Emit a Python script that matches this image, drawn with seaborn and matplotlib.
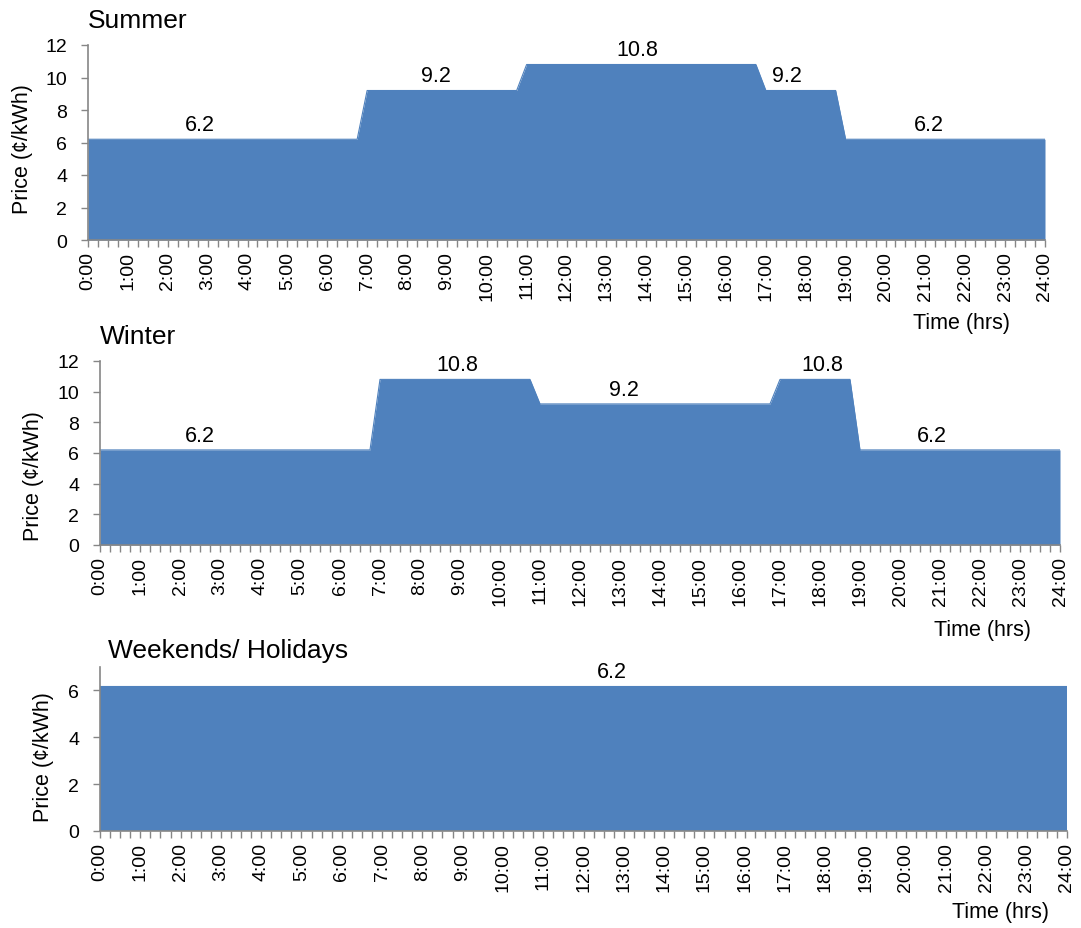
import numpy as np
import pandas as pd
import matplotlib
matplotlib.use("Agg")
import matplotlib.pyplot as plt
from matplotlib.ticker import MultipleLocator, FixedLocator
import seaborn as sns

# ---- tariff data (time of day -> price in cents/kWh) ----
summer_times = ["0:00", "6:45", "7:00", "10:45", "11:00", "16:45", "17:00", "18:45", "19:00", "24:00"]
summer_price = [6.2, 6.2, 9.2, 9.2, 10.8, 10.8, 9.2, 9.2, 6.2, 6.2]

winter_times = ["0:00", "6:45", "7:00", "10:45", "11:00", "16:45", "17:00", "18:45", "19:00", "24:00"]
winter_price = [6.2, 6.2, 10.8, 10.8, 9.2, 9.2, 10.8, 10.8, 6.2, 6.2]

weekend_times = ["0:00", "24:00"]
weekend_price = [6.2, 6.2]

hour_labels = [f"{h}:00" for h in range(25)]

# where the value labels sit along the day (hours)
summer_label_at = [2.81, 8.72, 13.77, 17.53, 21.09]
winter_label_at = [2.5, 8.93, 13.1, 18.05, 20.8]
weekend_label_at = [12.71]

BLUE = "#4F81BD"
GRAY = "#868686"
W, H = 1081, 929


def to_hours(t):
    h, m = t.split(":")
    return int(h) + int(m) / 60.0


sns.set_theme(style="ticks")
plt.rcParams["font.family"] = ["Liberation Sans", "DejaVu Sans"]

fig = plt.figure(figsize=(W / 100, H / 100), dpi=100)


def px_box(left, right, top, bottom):
    return [left / W, 1 - bottom / H, (right - left) / W, (bottom - top) / H]


panels = [
    dict(name="Summer", times=summer_times, price=summer_price, labels=summer_label_at,
         box=px_box(88, 1045, 46, 241), ymax=12,
         title=(88, 28), xlab=(913, 329), ylab=(22.5, 149)),
    dict(name="Winter", times=winter_times, price=winter_price, labels=winter_label_at,
         box=px_box(100, 1060, 362, 546), ymax=12,
         title=(100, 344), xlab=(934, 636), ylab=(34, 476)),
    dict(name="Weekends/ Holidays", times=weekend_times, price=weekend_price, labels=weekend_label_at,
         box=px_box(100, 1067, 668, 832), ymax=7,
         title=(108, 658), xlab=(952, 918), ylab=(44, 757)),
]

for p in panels:
    ax = fig.add_axes(p["box"])
    df = pd.DataFrame({"hour": [to_hours(t) for t in p["times"]], "price": p["price"]})
    sns.lineplot(data=df, x="hour", y="price", ax=ax, color=BLUE, lw=0.8)
    ax.fill_between(df["hour"], df["price"], color=BLUE, lw=0)

    ax.set_xlim(0, 24)
    ax.set_ylim(0, p["ymax"])
    ax.set_xlabel("")
    ax.set_ylabel("")

    ax.xaxis.set_major_locator(FixedLocator(range(25)))
    ax.set_xticklabels(hour_labels, rotation=90, fontsize=14)
    ax.xaxis.set_minor_locator(MultipleLocator(0.25))
    ax.yaxis.set_major_locator(MultipleLocator(2))
    for lab in ax.get_yticklabels():
        lab.set_fontsize(14)

    ax.tick_params(axis="x", which="both", direction="out", length=5, width=1,
                   color=GRAY, bottom=True, pad=3)
    ax.tick_params(axis="y", which="major", direction="out", length=5, width=1,
                   color=GRAY, left=True, pad=10)
    ax.tick_params(axis="both", labelcolor="black")
    for s in ("top", "right"):
        ax.spines[s].set_visible(False)
    for s in ("left", "bottom"):
        ax.spines[s].set_color(GRAY)
        ax.spines[s].set_linewidth(1.2)

    hrs = df["hour"].to_numpy()
    pr = df["price"].to_numpy()
    for x in p["labels"]:
        val = float(np.interp(x, hrs, pr))
        ax.annotate(f"{val:.1f}", (x, val), xytext=(0, 3), textcoords="offset points",
                    ha="center", va="bottom", fontsize=15.5, color="black")

    fig.text(p["title"][0] / W, 1 - p["title"][1] / H, p["name"], fontsize=19,
             ha="left", va="baseline", color="black")
    fig.text(p["xlab"][0] / W, 1 - p["xlab"][1] / H, "Time (hrs)", fontsize=15.5,
             ha="left", va="baseline", color="black")
    fig.text(p["ylab"][0] / W, 1 - p["ylab"][1] / H, "Price (¢/kWh)", fontsize=15.5,
             rotation=90, ha="center", va="center", color="black")

fig.savefig("out.png", dpi=100, facecolor="white")
